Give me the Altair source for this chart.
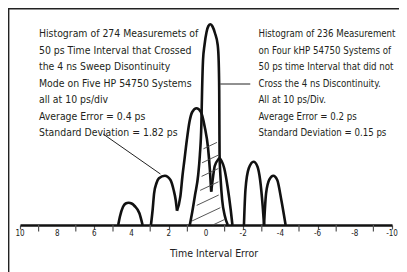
import altair as alt
import pandas as pd

FONT = "DejaVu Sans Condensed, Liberation Sans Narrow, sans-serif"

# Histogram envelopes (x = time interval error in ps, y = relative count)
arch1_x = [4.72, 4.63, 4.46, 4.32, 4.16, 4.00, 3.84, 3.58, 3.41]
arch1_y = [0, 8.3, 18.3, 21.5, 22.3, 21.5, 19, 11.7, 0]

arch2_x = [2.96, 2.87, 2.79, 2.66, 2.53, 2.21, 1.91, 1.74, 1.63, 1.56]
arch2_y = [0, 15, 31.7, 42, 46.7, 49.3, 45, 35, 25, 14.3]

arch3_x = [1.56, 1.38, 1.26, 1.16, 1.03, 0.89, 0.74, 0.51, 0.28, 0.07, -0.11, -0.21, -0.28]
arch3_y = [14.3, 28.3, 50, 65, 85, 103, 113, 116.7, 113.3, 98.3, 77, 55, 33.3]

arch4_x = [-0.28, -0.37, -0.47, -0.66, -0.72, -0.84, -0.98, -1.16, -1.33, -1.42]
arch4_y = [33.3, 47, 59, 65.5, 66.7, 64, 56.7, 38.3, 15, 0]

tall_x = [0.87, 0.74, 0.59, 0.42, 0.33, 0.25, 0.21, 0.16, 0.08, -0.03, -0.13, -0.24,
          -0.35, -0.48, -0.63, -0.68, -0.71, -0.72, -0.73, -0.79, -0.87, -1.00, -1.17]
tall_y = [0, 13, 30, 50, 70, 100, 135, 165, 180, 193, 199, 200.7,
          198.5, 192, 180, 165, 135, 100, 70, 45, 25, 10, 0]

arch5_x = [-2.04, -2.12, -2.30, -2.56, -2.77, -2.91, -3.05, -3.12]
arch5_y = [0, 35, 56.7, 63.3, 58.3, 45, 18.3, 0]

arch6_x = [-3.12, -3.23, -3.41, -3.62, -3.83, -4.05, -4.28]
arch6_y = [0, 31.7, 45.7, 49.3, 45, 25, 0]

# Hatching inside the tall histogram
hatch_x1 = [0.137, 0.211, 0.237, 0.316, 0.50, 0.789, -0.368]
hatch_y1 = [76.2, 62.2, 48.6, 34.6, 19.6, 3.7, 0]
hatch_x2 = [-0.589, -0.653, -0.663, -0.668, -0.684, -0.768, -0.984]
hatch_y2 = [82.6, 69.8, 56.5, 43.2, 30.0, 17.3, 5.4]

# Axis ticks
major_ticks = [10, 8, 6, 4, 2, 0, -2, -4, -6, -8, -10]
major_labels = ["10", "8", "6", "4", "2", "0", "-2", "-4", "-6", "-8", "-10"]
minor_ticks = [9, 7, 5, 3, 1, -1, -3, -5, -7, -9]
axis_title = "Time Interval Error"
axis_title_x = -0.43

# Annotation text
left_lines = [
    "Histogram of 274 Measuremets of",
    "50 ps Time Interval  that Crossed",
    "the 4 ns Sweep Disontinuity",
    "Mode on Five HP 54750 Systems",
    "all at 10 ps/div",
    "Average Error = 0.4 ps",
    "Standard Deviation = 1.82 ps",
]
right_lines = [
    "Histogram of 236 Measurement",
    "on Four kHP 54750 Systems of",
    "50 ps time Interval that did not",
    "Cross the 4 ns Discontinuity.",
    "All at 10 ps/Div.",
    "Average Error = 0.2 ps",
    "Standard Deviation = 0.15 ps",
]
line_y = [191, 174.5, 158, 141, 125, 108.5, 92]
left_text_x = 8.98
right_text_x = -2.82

# Leader lines
leader_x1 = [5.53, -0.77]
leader_y1 = [91, 141]
leader_x2 = [2.45, -2.38]
leader_y2 = [51, 141]

rows = []
for name, xs, ys in [("a1", arch1_x, arch1_y), ("a2", arch2_x, arch2_y),
                     ("a3", arch3_x, arch3_y), ("a4", arch4_x, arch4_y),
                     ("tall", tall_x, tall_y), ("a5", arch5_x, arch5_y),
                     ("a6", arch6_x, arch6_y)]:
    for i, (xv, yv) in enumerate(zip(xs, ys)):
        rows.append({"arch": name, "i": i, "x": xv, "y": yv})
curves = pd.DataFrame(rows)

hatch = pd.DataFrame({"x": hatch_x1, "y": hatch_y1, "x2": hatch_x2, "y2": hatch_y2})
leaders = pd.DataFrame({"x": leader_x1, "y": leader_y1, "x2": leader_x2, "y2": leader_y2})
left_df = pd.DataFrame({"t": left_lines, "x": [left_text_x] * len(left_lines), "y": line_y})
right_df = pd.DataFrame({"t": right_lines, "x": [right_text_x] * len(right_lines), "y": line_y})
minor = pd.DataFrame({"x": minor_ticks})
major = pd.DataFrame({"x": major_ticks, "lab": major_labels})
title_df = pd.DataFrame({"t": [axis_title], "x": [axis_title_x]})
one = pd.DataFrame({"k": [0]})

xscale = alt.Scale(domain=[10, -10], nice=False, zero=False)
yscale = alt.Scale(domain=[0, 217], nice=False, zero=False)

xaxis = alt.Axis(
    values=major_ticks, labels=False, title=None,
    tickSize=4, tickColor="#555555",
    tickWidth=1.2, domainColor="#111111", domainWidth=2.6, grid=False,
)

base_curves = alt.Chart(curves).mark_line(
    interpolate="monotone", color="#111111", strokeWidth=2.6
).encode(
    x=alt.X("x:Q", scale=xscale, axis=xaxis),
    y=alt.Y("y:Q", scale=yscale, axis=None),
    detail="arch:N",
    order="i:Q",
)

hatch_layer = alt.Chart(hatch).mark_rule(color="#444444", strokeWidth=0.9).encode(
    x=alt.X("x:Q", scale=xscale), y=alt.Y("y:Q", scale=yscale, axis=None),
    x2="x2:Q", y2="y2:Q",
)

leader_layer = alt.Chart(leaders).mark_rule(color="#222222", strokeWidth=1).encode(
    x=alt.X("x:Q", scale=xscale), y=alt.Y("y:Q", scale=yscale, axis=None),
    x2="x2:Q", y2="y2:Q",
)

minor_layer = alt.Chart(minor).mark_rule(color="#555555", strokeWidth=1.2).encode(
    x=alt.X("x:Q", scale=xscale), y=alt.value(217), y2=alt.value(223.5),
)

tick_labels = alt.Chart(major).mark_text(
    align="center", baseline="middle", font=FONT, fontSize=8, color="#222222"
).encode(
    x=alt.X("x:Q", scale=xscale), y=alt.value(225.5), text="lab:N",
)

left_text = alt.Chart(left_df).mark_text(
    align="left", baseline="middle", font=FONT, fontSize=10.4, color="#231f20"
).encode(
    x=alt.X("x:Q", scale=xscale), y=alt.Y("y:Q", scale=yscale, axis=None),
    text="t:N",
)

right_text = alt.Chart(right_df).mark_text(
    align="left", baseline="middle", font=FONT, fontSize=9.6, color="#231f20"
).encode(
    x=alt.X("x:Q", scale=xscale), y=alt.Y("y:Q", scale=yscale, axis=None),
    text="t:N",
)

title_layer = alt.Chart(title_df).mark_text(
    align="center", baseline="middle", font=FONT, fontSize=10.5, color="#222222"
).encode(
    x=alt.X("x:Q", scale=xscale), y=alt.value(246), text="t:N",
)

frame_left = alt.Chart(one).mark_rule(color="#222222", strokeWidth=1.4).encode(
    x=alt.value(-11.3), y=alt.value(0), y2=alt.value(270)
)
frame_top = alt.Chart(one).mark_rule(color="#222222", strokeWidth=1.4).encode(
    x=alt.value(-12), x2=alt.value(400), y=alt.value(0.7)
)

chart = alt.layer(
    base_curves, hatch_layer, minor_layer, tick_labels, leader_layer, left_text,
    right_text, title_layer, frame_left, frame_top
).properties(
    width=372, height=217,
    padding={"left": 12, "top": 0, "right": 7, "bottom": 47},
    autosize=alt.AutoSizeParams(type="none"),
    background="white",
).configure_view(stroke=None).configure_text(limit=0)

chart.save("out.html", embed_options={"renderer": "svg", "actions": False})
